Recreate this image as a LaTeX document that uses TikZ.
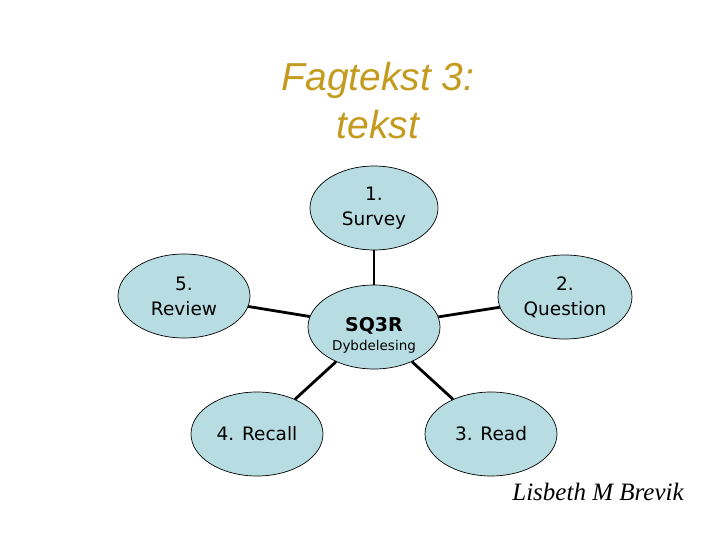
\documentclass[tikz,border=0pt]{standalone}
\usepackage{fontspec}
\setmainfont{DejaVu Sans}
\newfontfamily\titlefont{Liberation Sans}
\newfontfamily\signfont{Liberation Serif}
\usetikzlibrary{shapes.geometric}
\definecolor{bubble}{RGB}{183,221,226}
\definecolor{titlegold}{RGB}{196,155,30}
\tikzset{
  bub/.style={ellipse, draw=black, line width=0.7pt, fill=bubble, minimum width=132pt, minimum height=84pt, inner sep=0pt, align=center, font=\fontsize{18.5}{25}\selectfont},
  conn/.style={draw=black, line width=2.8pt}
}
\begin{document}
\begin{tikzpicture}[x=1pt,y=-1pt]
\useasboundingbox (0,0) rectangle (720,540);
\node[font=\titlefont\itshape\fontsize{39}{48}\selectfont, text=titlegold, align=center] (title) at (378,101) {Fagtekst 3:\\tekst};
\node[bub, minimum width=128pt] (survey) at (374,208) {1.\\Survey};
\node[bub] (review) at (184,296) {5.\\Review};
\node[bub, minimum width=134pt] (question) at (565,297) {2.\\Question};
\node[bub] (sq) at (374,327) {};
\node[align=center, inner sep=0pt] (sqtext) at (374,335) {{\fontsize{19}{22}\selectfont\bfseries SQ3R}\\[5pt]{\fontsize{13.5}{16}\selectfont Dybdelesing}};
\node[bub] (recall) at (257,434) {4. Recall};
\node[bub] (read) at (491,434) {3. Read};
\node[font=\signfont\itshape\fontsize{25}{28}\selectfont] (sign) at (598,492) {Lisbeth M Brevik};
\draw[conn] (survey) -- (sq);
\draw[conn] (review) -- (sq);
\draw[conn] (question) -- (sq);
\draw[conn] (sq) -- (recall);
\draw[conn] (sq) -- (read);
\end{tikzpicture}
\end{document}
